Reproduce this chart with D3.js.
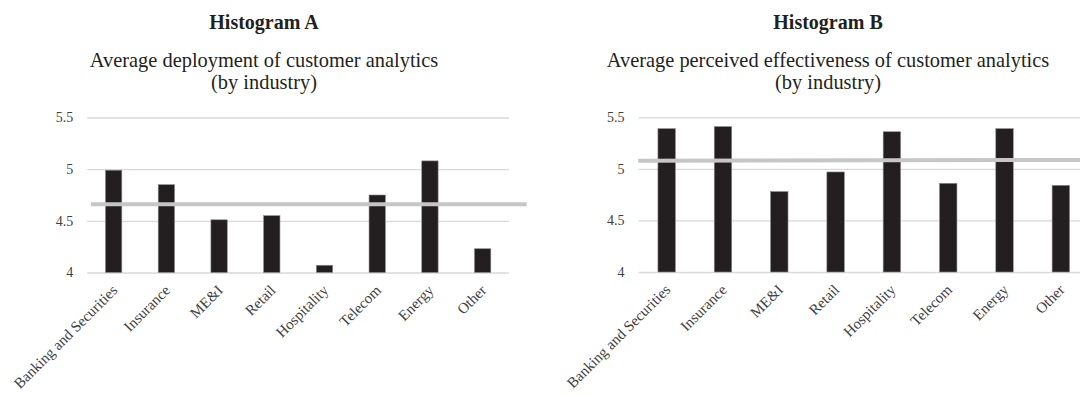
<!DOCTYPE html>
<html><head><meta charset="utf-8">
<script src="https://cdn.jsdelivr.net/npm/d3@7/dist/d3.min.js"></script>
<style>
  body { margin: 0; background: #fff; }
  svg { display: block; }
</style>
</head><body>
<script>
// Industries shown on both histograms
const industries = ["Banking and Securities", "Insurance", "ME&I", "Retail", "Hospitality", "Telecom", "Energy", "Other"];
// Average deployment of customer analytics per industry
const deployment = [4.99, 4.85, 4.51, 4.55, 4.07, 4.75, 5.08, 4.23];
// Average perceived effectiveness of customer analytics per industry
const effectiveness = [5.39, 5.41, 4.78, 4.97, 5.36, 4.86, 5.39, 4.84];
// Overall averages (start and end level of the reference line)
const avgDeployment = [4.66, 4.66];
const avgEffectiveness = [5.078, 5.086];
const yTicks = [4, 4.5, 5, 5.5];
const yDomain = [4, 5.5];
const titles = ["Histogram A", "Histogram B"];
const subtitles = [
  ["Average deployment of customer analytics", "(by industry)"],
  ["Average perceived effectiveness of customer analytics", "(by industry)"]
];

const W = 1080, H = 395;
const FONT = "'Liberation Serif', 'Times New Roman', serif";
const svg = d3.select("body").append("svg").attr("width", W).attr("height", H)
  .style("font-family", FONT);

const panels = [
  { values: deployment, avg: avgDeployment, title: titles[0], sub: subtitles[0],
    x0: 87.3, x1: 509, yTop: 117.5, yBot: 272.5, titleX: 264, avgX0: 91, avgX1: 526.7 },
  { values: effectiveness, avg: avgEffectiveness, title: titles[1], sub: subtitles[1],
    x0: 638.5, x1: 1089, yTop: 117.3, yBot: 272, titleX: 828, avgX0: 638.2, avgX1: 1080 }
];

panels.forEach(p => {
  const g = svg.append("g");

  // headings
  g.append("text").attr("x", p.titleX).attr("y", 28.5)
    .attr("text-anchor", "middle").attr("font-weight", "bold")
    .attr("font-size", 20).attr("fill", "#231f20").text(p.title);
  p.sub.forEach((line, i) => {
    g.append("text").attr("x", p.titleX).attr("y", 66.7 + i * 22.5)
      .attr("text-anchor", "middle").attr("font-size", 20.4)
      .attr("fill", "#231f20").text(line);
  });

  const x = d3.scaleBand().domain(industries).range([p.x0, p.x1])
    .paddingInner(0.69).paddingOuter(0.345);
  const y = d3.scaleLinear().domain(yDomain).range([p.yBot, p.yTop]);

  // gridlines + y tick labels
  const yAxis = g.append("g").attr("transform", `translate(${p.x0},0)`)
    .call(d3.axisLeft(y).tickValues(yTicks).tickSize(-(p.x1 - p.x0)).tickPadding(14)
      .tickFormat(d3.format("")));
  yAxis.select(".domain").remove();
  yAxis.selectAll(".tick line").attr("stroke", "#d9d9d9").attr("stroke-width", 1.3);
  yAxis.selectAll(".tick text").attr("font-family", FONT).attr("font-size", 14)
    .attr("fill", "#404040");

  // bars
  g.selectAll("rect.bar").data(p.values).join("rect")
    .attr("class", "bar")
    .attr("x", (d, i) => x(industries[i]))
    .attr("width", x.bandwidth())
    .attr("y", d => y(d))
    .attr("height", d => y(yDomain[0]) - y(d))
    .attr("fill", "#231f20")
    .attr("stroke", "#8a8a8a").attr("stroke-width", 0.6);

  // overall average line
  g.append("line")
    .attr("x1", p.avgX0).attr("x2", p.avgX1)
    .attr("y1", y(p.avg[0])).attr("y2", y(p.avg[1]))
    .attr("stroke", "#c6c6c6").attr("stroke-width", 4);

  // category labels, rotated
  const xAxis = g.append("g").attr("transform", `translate(0,${p.yBot})`)
    .call(d3.axisBottom(x).tickSize(0).tickPadding(0));
  xAxis.select(".domain").remove();
  xAxis.selectAll(".tick text")
    .attr("font-family", FONT).attr("font-size", 15).attr("fill", "#404040")
    .attr("text-anchor", "end")
    .attr("x", 0).attr("y", 0).attr("dy", "0.35em")
    .attr("transform", "translate(1,15) rotate(-45)");
});
</script>
</body></html>
